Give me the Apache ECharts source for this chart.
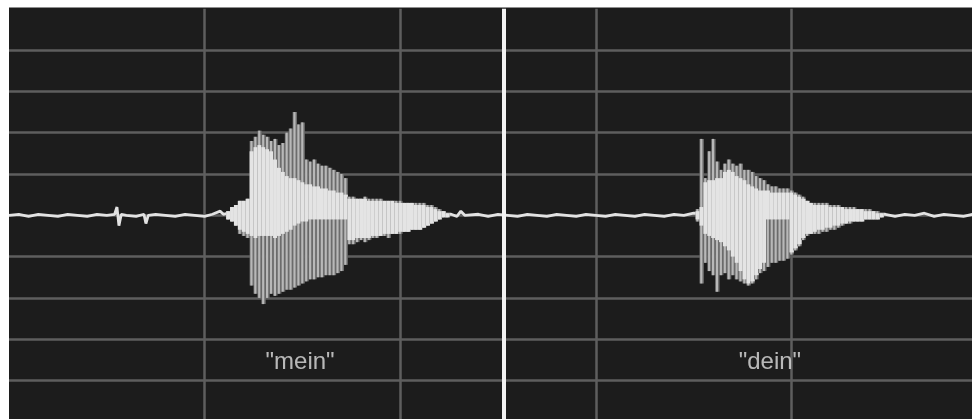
<!DOCTYPE html>
<html lang="de">
<head>
    <meta charset="utf-8"/>
    <title>"mein" / "dein"</title>
    <script src="https://cdn.jsdelivr.net/npm/echarts@6/dist/echarts.min.js"></script>
    <style>
        html, body { margin: 0; padding: 0; background: #fff; }
        #main { width: 972px; height: 419px; }
    </style>
</head>
<body>
<div id="main"></div>
<script>
    // time in ms, amplitude in % of full scale, one sample every 10 ms
    var step = 10;

    var meinStart = 560;
    var meinOuterTop = [2, 4, 5, 7, 7, 8,
        36, 38, 41, 39, 38, 36, 37, 34, 35, 40, 42, 50, 44, 45,
        27, 26, 27, 25, 24, 24, 23, 22, 21, 20, 18,
        9, 9, 8, 8, 9, 8, 8, 8, 8, 7, 7, 7, 7, 7, 6, 6, 6, 6, 6, 6, 5, 5, 4, 3, 2, 1];
    var meinCoreTop = [2, 4, 5, 7, 7, 8,
        31, 33, 34, 33, 32, 31, 27, 23, 21, 19, 18, 18, 17, 16,
        15, 15, 14, 14, 13, 13, 12, 12, 11, 11, 10,
        8, 8, 8, 8, 8, 7, 7, 7, 7, 7, 7, 7, 6, 6, 6, 6, 6, 5, 5, 5, 4, 4, 3, 2, 2, 1];
    var meinCoreBottom = [-2, -3, -5, -7, -8, -9,
        -10, -11, -10, -10, -10, -10, -11, -10, -9, -8, -7, -5, -4, -3,
        -3, -2, -2, -2, -2, -2, -2, -2, -2, -2, -2,
        -12, -12, -11, -11, -11, -11, -10, -10, -10, -9, -9, -9, -9, -8, -8, -8, -7, -7, -7, -6, -5, -4, -3, -2, -1, -1];
    var meinOuterBottom = [-2, -3, -5, -9, -10, -11,
        -34, -38, -40, -43, -40, -38, -39, -38, -37, -36, -36, -35, -34, -33,
        -32, -31, -31, -30, -30, -29, -29, -29, -28, -27, -24,
        -14, -14, -13, -12, -13, -12, -11, -11, -10, -10, -11, -9, -9, -9, -8, -8, -7, -7, -7, -6, -5, -4, -3, -2, -1, -1];

    var deinStart = 1760;
    var deinOuterTop = [3, 37, 18, 31, 37, 26, 22, 25, 27, 25,
        24, 25, 22, 22, 21, 19, 18, 17, 15, 14,
        14, 13, 13, 13, 12, 11, 10, 9, 7, 6,
        6, 6, 6, 6, 5, 5, 5, 4, 4, 4,
        4, 3, 3, 3, 3, 2, 2, 1];
    var deinCoreTop = [2, 4, 16, 17, 17, 18, 18, 21, 22, 21,
        19, 18, 17, 15, 14, 13, 12, 12, 12, 11,
        11, 11, 11, 11, 11, 10, 9, 8, 7, 6,
        5, 5, 5, 5, 4, 4, 4, 4, 3, 3,
        3, 3, 3, 2, 2, 2, 1, 1];
    var deinCoreBottom = [-2, -5, -9, -10, -11, -12, -13, -15, -17, -20,
        -23, -27, -31, -33, -32, -29, -26, -23, -2, -2,
        -2, -2, -2, -2, -18, -16, -14, -11, -9, -9,
        -8, -7, -7, -6, -6, -5, -5, -4, -4, -3,
        -3, -3, -3, -2, -2, -2, -2, -1];
    var deinOuterBottom = [-3, -33, -23, -27, -29, -37, -29, -28, -31, -29,
        -31, -32, -33, -34, -33, -31, -28, -27, -25, -23,
        -23, -22, -22, -21, -19, -17, -15, -12, -10, -9,
        -9, -9, -8, -8, -7, -7, -6, -5, -4, -4,
        -3, -3, -3, -2, -2, -2, -2, -1];

    // background noise between the words [ms, amplitude]
    var noise = [[0, 0], [25, 0.5], [50, -0.5], [75, 0.5], [100, 0], [125, -0.5], [150, 0.5], [175, 0],
        [200, -0.5], [225, 0.5], [250, 0], [270, 0.5], [276, 4], [281, -5], [287, 0.5], [300, 0],
        [325, -0.5], [345, 0.5], [350, -4], [356, 0], [375, 0.5], [400, 0], [425, -0.5], [450, 0.5],
        [475, 0], [500, -0.5], [520, 0.5], [540, 2], [548, 0.5], [560, 1],
        [1130, 0.5], [1145, -0.5], [1155, 2], [1165, 0], [1200, 0.5], [1225, -0.5], [1250, 0.5],
        [1275, 0], [1300, -0.5], [1325, 0.5], [1350, 0], [1375, -0.5], [1400, 0.5], [1425, 0],
        [1450, -0.5], [1475, 0.5], [1500, 0], [1525, -0.5], [1550, 0.5], [1575, 0], [1600, -0.5],
        [1625, 0.5], [1650, 0], [1675, -0.5], [1700, 0.5], [1725, 0], [1750, 1],
        [2240, 0.5], [2265, -0.5], [2290, 0.5], [2315, 0], [2340, 1], [2365, -0.5], [2390, 0.5],
        [2415, 0], [2440, -0.5], [2465, 0.5], [2490, 0]];

    var splitTime = 1265; // boundary between the two recordings
    var words = ['"mein"', '"dein"'];
    var wordCenters = [744, 1945];
    var labelLevel = -71;

    function buildWave(start, ot, ob, ct, cb) {
        var out = [];
        for (var i = 0; i < ot.length; i++) {
            out.push([start + i * step, ot[i], ob[i], ct[i], cb[i]]);
        }
        return out;
    }

    function renderWave(params, api) {
        var t = api.value(0);
        var top = api.coord([t, api.value(1)]);
        var bot = api.coord([t, api.value(2)]);
        var cTop = api.coord([t, api.value(3)]);
        var cBot = api.coord([t, api.value(4)]);
        var w = api.size([step, 0])[0];
        var x = top[0] - w / 2;
        return {
            type: 'group',
            children: [
                {type: 'rect', shape: {x: x, y: top[1], width: w + 0.5, height: bot[1] - top[1]}, style: {fill: '#6c6c6c'}},
                {type: 'rect', shape: {x: x + w * 0.2, y: top[1], width: w * 0.55, height: bot[1] - top[1]}, style: {fill: '#b8b8b8'}},
                {type: 'rect', shape: {x: x, y: cTop[1], width: w + 0.5, height: cBot[1] - cTop[1]}, style: {fill: '#e4e4e4'}}
            ]
        };
    }

    var gridLine = {show: true, lineStyle: {color: '#5e5e5e', width: 2.5}};

    var myChart = echarts.init(document.getElementById('main'));
    var option = {
        backgroundColor: '#1c1c1c',
        animation: false,
        grid: {left: 9, top: 8.8, width: 978, height: 413, outerBoundsMode: 'none'},
        xAxis: {
            type: 'value', min: 0, max: 2500, interval: 500,
            axisLine: {show: false}, axisTick: {show: false}, axisLabel: {show: false},
            splitLine: Object.assign({showMinLine: false}, gridLine)
        },
        yAxis: {
            type: 'value', min: -100, max: 100, interval: 20,
            axisLine: {show: false}, axisTick: {show: false}, axisLabel: {show: false},
            splitLine: Object.assign({showMinLine: false, showMaxLine: false}, gridLine)
        },
        graphic: [
            {type: 'rect', shape: {x: 0, y: 0, width: 972, height: 7.5}, style: {fill: '#ffffff'}, z: 100},
            {type: 'rect', shape: {x: 0, y: 0, width: 9, height: 419}, style: {fill: '#ffffff'}, z: 100}
        ],
        series: [
            {
                type: 'line',
                data: noise,
                symbol: 'none',
                lineStyle: {color: '#e2e2e2', width: 2.8},
                z: 3,
                markLine: {
                    silent: true,
                    symbol: 'none',
                    label: {show: false},
                    lineStyle: {color: '#f2f2f2', width: 4, type: 'solid'},
                    data: [{xAxis: splitTime}]
                }
            },
            {
                type: 'custom',
                renderItem: renderWave,
                data: buildWave(meinStart, meinOuterTop, meinOuterBottom, meinCoreTop, meinCoreBottom),
                encode: {x: 0, y: [1, 2, 3, 4]},
                z: 4
            },
            {
                type: 'custom',
                renderItem: renderWave,
                data: buildWave(deinStart, deinOuterTop, deinOuterBottom, deinCoreTop, deinCoreBottom),
                encode: {x: 0, y: [1, 2, 3, 4]},
                z: 4
            },
            {
                type: 'scatter',
                symbolSize: 0,
                data: words.map(function (w, i) {
                    return {name: w, value: [wordCenters[i], labelLevel]};
                }),
                label: {
                    show: true, position: 'inside', formatter: '{b}',
                    color: '#e0e0e0', fontSize: 24, fontFamily: 'Liberation Sans'
                },
                z: 5
            }
        ]
    };
    myChart.setOption(option);
</script>
</body>
</html>
